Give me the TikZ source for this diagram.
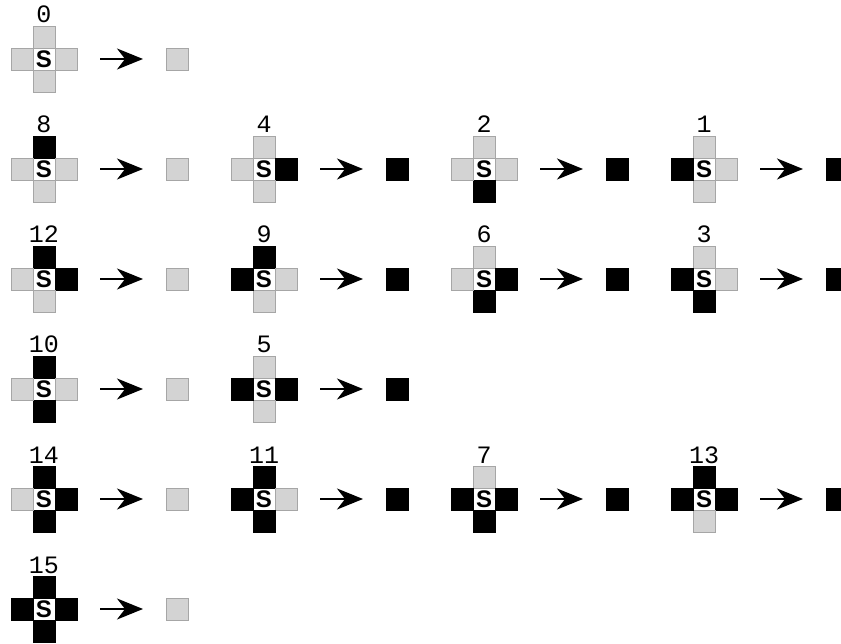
\documentclass[tikz,border=0pt]{standalone}
\usepackage{fontspec}
\usetikzlibrary{arrows.meta}
\newfontfamily\labelfont{Liberation Mono}
\newfontfamily\cellfont{Liberation Sans}
\definecolor{cellgray}{HTML}{D3D3D3}
\definecolor{edgegray}{HTML}{A6A6A6}
\tikzset{
  cell/.style={draw, minimum size=22pt, inner sep=0pt, outer sep=0pt, line width=0.9pt},
  off/.style={cell, fill=cellgray, draw=edgegray},
  on/.style={cell, fill=black, draw=black},
  ctr/.style={cell, fill=white, draw=edgegray, font=\cellfont\bfseries\fontsize{24}{24}\selectfont},
  lbl/.style={inner sep=0pt, font=\labelfont\fontsize{25}{25}\selectfont},
  arr/.style={line width=2.2pt, -{Stealth[length=26pt,width=21pt,inset=8pt]}, shorten <=23pt, shorten >=23pt},
}
% #1 name, #2 centre, #3 code, #4 top, #5 right, #6 bottom, #7 left, #8 result
\newcommand\rulecell[8]{%
  \node[ctr] (#1c) at (#2) {S};
  \node[#4, anchor=south] (#1u) at (#1c.north) {};
  \node[#5, anchor=west]  (#1e) at (#1c.east) {};
  \node[#6, anchor=north] (#1d) at (#1c.south) {};
  \node[#7, anchor=east]  (#1w) at (#1c.west) {};
  \node[lbl, anchor=base] (#1n) at ([yshift=3pt]#1u.north) {#3};
  \node[#8, xshift=133pt] (#1r) at (#1c) {};
  \draw[arr] (#1e.east) -- (#1r.west);
}
\begin{document}
\begin{tikzpicture}[x=1pt, y=-1pt]
  \useasboundingbox (0,0) rectangle (841,644);
  % row 1
  \rulecell{p0}{44,59}{0}{off}{off}{off}{off}{off}
  % row 2: one neighbour set
  \rulecell{p8}{44,169}{8}{on}{off}{off}{off}{off}
  \rulecell{p4}{264,169}{4}{off}{on}{off}{off}{on}
  \rulecell{p2}{484,169}{2}{off}{off}{on}{off}{on}
  \rulecell{p1}{704,169}{1}{off}{off}{off}{on}{on}
  % row 3: two adjacent neighbours
  \rulecell{p12}{44,279}{12}{on}{on}{off}{off}{off}
  \rulecell{p9}{264,279}{9}{on}{off}{off}{on}{on}
  \rulecell{p6}{484,279}{6}{off}{on}{on}{off}{on}
  \rulecell{p3}{704,279}{3}{off}{off}{on}{on}{on}
  % row 4: two opposite neighbours
  \rulecell{p10}{44,389}{10}{on}{off}{on}{off}{off}
  \rulecell{p5}{264,389}{5}{off}{on}{off}{on}{on}
  % row 5: three neighbours
  \rulecell{p14}{44,499}{14}{on}{on}{on}{off}{off}
  \rulecell{p11}{264,499}{11}{on}{off}{on}{on}{on}
  \rulecell{p7}{484,499}{7}{off}{on}{on}{on}{on}
  \rulecell{p13}{704,499}{13}{on}{on}{off}{on}{on}
  % row 6: all four neighbours
  \rulecell{p15}{44,609}{15}{on}{on}{on}{on}{off}
\end{tikzpicture}
\end{document}
